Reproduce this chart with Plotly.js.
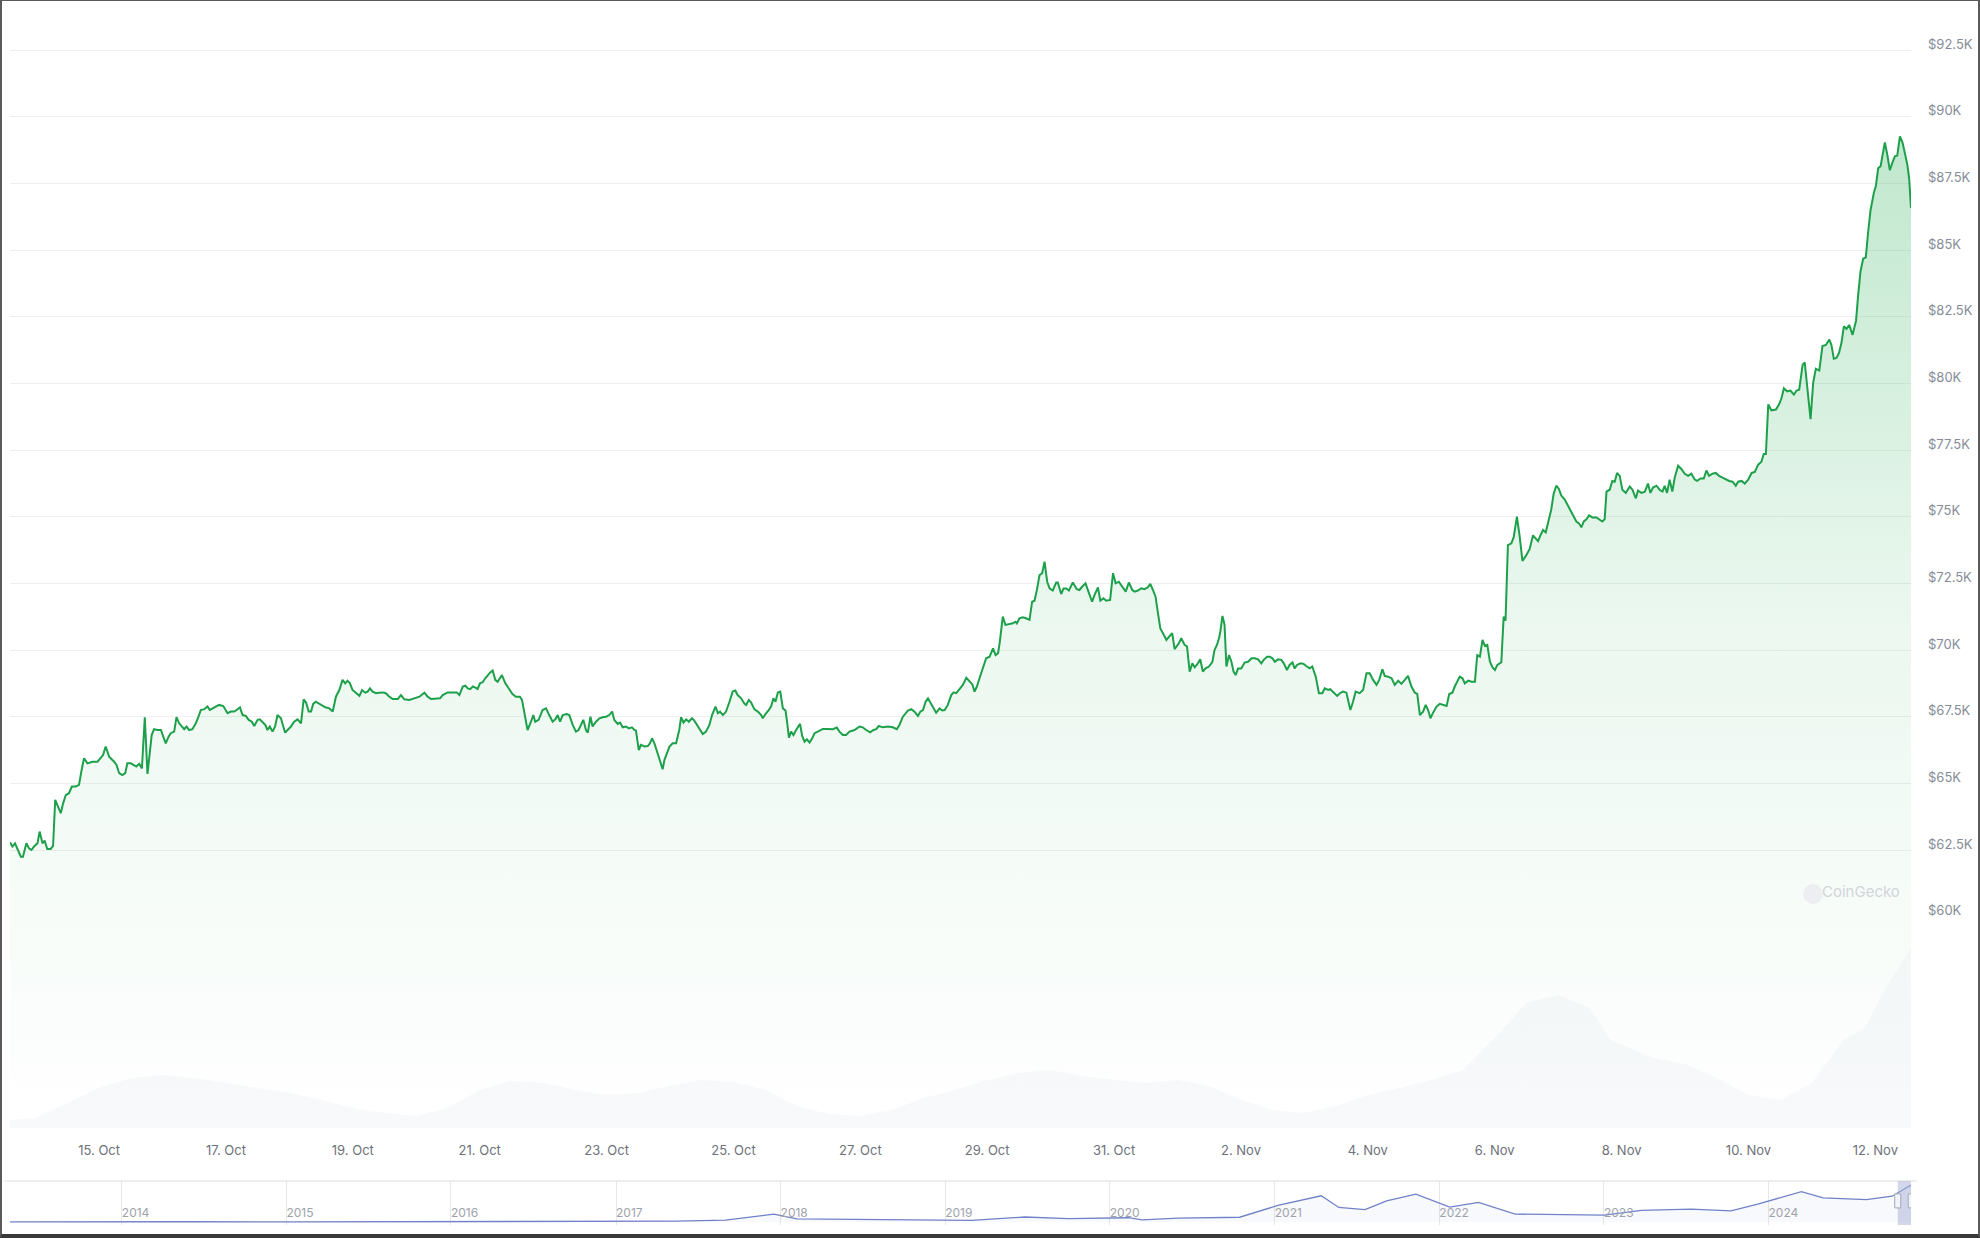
<!DOCTYPE html>
<html><head><meta charset="utf-8">
<script src="https://cdn.plot.ly/plotly-3.0.1.min.js"></script>
<style>
html,body{margin:0;padding:0;background:#fff;overflow:hidden;}
#chart{width:1980px;height:1238px;}
#frame{position:absolute;left:0;top:0;width:1980px;height:1238px;box-sizing:border-box;border-left:2px solid #5a5a5a;border-top:1px solid #5a5a5a;border-right:2px solid #5a5a5a;border-bottom:4px solid #3a3a3a;pointer-events:none;}
</style>
</head><body><div id="chart"></div><div id="frame"></div>
<script>
// ---- data ----
// hours since 2024-10-13 00:00
const priceHours = [14.3,15.2,16.2,17.1,18.4,19.2,20.5,21.5,22.4,23.4,24.7,25.5,26.6,27.4,28.4,29.7,30.6,31.4,32.6,33.5,34.4,35.4,36.6,37.7,39.2,40.4,41.4,42.3,43.6,45.5,47.4,48.6,49.5,50.5,51.8,53.7,54.6,55.6,56.8,57.9,58.7,60.0,61.3,62.1,63.2,64.2,65.3,66.3,66.9,67.9,68.8,70.1,71.4,72.2,73.2,74.3,75.1,76.4,77.3,78.3,79.3,80.2,81.1,82.1,83.3,84.6,85.6,86.5,87.8,89.0,89.9,90.9,92.2,93.4,95.0,96.0,96.6,97.9,99.1,100.0,101.3,102.3,103.5,104.6,105.8,106.7,108.0,108.8,109.9,110.9,111.7,112.6,113.6,114.6,115.5,116.8,117.7,118.4,119.3,120.6,121.8,123.1,124.4,125.4,126.3,127.3,128.2,129.0,130.0,131.3,132.3,133.6,135.1,136.4,137.6,138.9,140.1,141.1,142.0,142.9,143.9,145.2,146.5,147.5,148.7,149.6,150.5,151.5,152.8,154.0,155.3,156.5,157.8,159.1,161.0,162.2,163.5,165.4,167.3,169.2,171.1,172.3,173.6,175.5,177.0,178.0,179.9,181.8,183.3,184.3,185.6,186.6,187.5,188.4,189.4,190.4,191.2,192.1,193.1,194.1,195.0,195.9,196.9,197.9,198.8,
200.4,201.7,203.2,204.4,205.7,207.2,208.0,208.9,210.1,211.4,212.3,213.0,214.3,215.8,217.1,218.3,219.6,220.6,221.5,222.4,223.4,224.9,225.9,227.2,228.4,229.4,230.3,231.2,232.2,232.9,233.9,234.7,236.0,237.3,238.5,239.8,241.0,242.1,242.9,244.2,245.1,246.1,247.4,248.4,249.6,250.5,251.1,252.2,253.0,254.3,255.6,256.4,257.2,258.1,259.3,260.6,261.2,261.9,262.8,263.8,265.0,266.3,267.5,268.2,269.1,270.1,271.1,272.3,273.2,274.5,275.8,276.4,277.6,278.9,279.9,281.2,282.1,282.9,284.0,285.2,286.5,287.7,288.7,289.6,290.9,292.2,292.8,293.8,294.7,295.9,297.2,298.5,299.1,300.1,301.4,302.3,303.1,303.9,304.8,305.7,306.7,307.7,308.2,309.0,309.8,310.7,311.7,312.7,313.2,314.0,314.9,315.8,316.8,317.8,318.7,319.9,321.8,323.7,325.6,327.1,328.1,329.4,330.6,331.9,333.8,335.7,336.9,338.2,339.7,341.0,342.0,343.0,344.5,346.4,348.3,349.8,350.8,352.1,354.0,355.3,356.5,357.8,358.7,359.7,360.7,361.6,362.5,363.5,364.7,366.0,367.0,367.9,369.1,370.4,371.3,372.3,373.6,374.8,376.1,377.3,378.4,379.2,380.1,381.1,382.4,383.6,384.9,386.2,387.2,388.1,
388.7,389.9,390.9,392.4,393.7,394.7,395.2,396.2,397.5,398.7,400.0,401.0,401.9,402.8,403.8,404.8,405.7,406.7,407.6,408.8,410.1,410.7,412.0,412.9,413.9,414.9,416.4,417.9,418.9,420.0,421.2,422.5,423.7,424.6,425.9,426.8,428.0,429.0,430.5,431.6,432.6,433.8,435.1,436.4,437.6,438.9,439.8,441.0,442.3,443.5,444.8,445.7,446.7,447.7,448.6,449.5,450.5,451.8,453.3,454.0,454.9,456.5,457.4,458.7,459.6,460.6,461.6,462.5,463.7,464.6,465.6,466.6,467.9,469.2,470.0,470.9,471.7,472.2,473.0,473.8,474.5,475.5,476.4,477.2,478.0,478.9,480.1,481.4,482.7,484.0,485.2,486.5,487.7,488.6,489.9,490.9,491.9,492.8,494.0,495.3,496.2,497.4,498.4,499.5,500.3,501.2,502.5,503.7,504.7,506.0,507.0,508.3,509.5,510.8,511.7,513.0,513.8,515.1,516.4,517.4,518.6,519.9,521.4,522.4,523.4,524.9,526.2,527.5,528.7,530.0,531.3,532.3,533.5,534.4,535.7,537.0,538.2,539.5,540.7,542.0,543.2,544.5,545.8,546.7,547.7,548.9,549.9,550.8,551.7,552.7,554.0,555.2,556.8,557.8,558.8,560.0,560.9,561.8,562.8,563.8,564.7,566.0,567.2,568.5,569.4,570.4,571.4,572.3,573.2,574.2,575.2,576.1,577.0,577.9,
578.5,579.4,580.1,581.0,582.3,583.2,584.4,585.4,586.5,588.0,589.2,590.5,591.5,592.4,593.3,594.3,595.3,596.2,597.4,598.3,599.3,600.3,601.2,602.5,603.7,605.0,605.9,606.9,607.9,608.8,609.7,610.7,611.7,613.0,614.5,615.7,616.7,617.6,618.3,619.5,620.5,621.4,622.3,623.3,624.3,625.6,627.1,628.1,629.4,630.2,631.5,632.8,634.0,634.9,635.9,637.2,638.4,639.5,640.3,641.2,642.2,643.2,644.1,645.4,646.6,647.9,649.2,650.4,651.7,652.6,653.8,655.1,656.1,657.1,658.4,659.6,660.9,662.2,663.4,664.7,666.0,667.2,668.1,669.4,670.6,671.9,673.2,674.4,675.7,676.9,677.8,678.6,679.5,680.7,682.4,683.6,684.5,685.4,686.7,687.9,689.2,690.2,691.2,692.5,693.3,694.2,695.5,696.5,697.5,698.8,700.0,701.3,702.6,703.4,704.3,705.3,706.3,707.2,708.1,709.1,710.1,711.4,712.7,713.5,714.4,715.4,716.4,717.3,718.2,719.5,720.2,721.1,722.0,722.8,723.6,724.5,725.5,726.5,727.4,728.3,729.3,730.3,731.2,732.1,732.8,733.5];

const priceUsd = [62790,62630,62750,62560,62250,62250,62750,62560,62500,62630,62750,63190,62750,62850,62540,62540,62650,64380,64130,63880,64250,64560,64630,64880,64880,64940,65500,65940,65750,65810,65810,65940,66060,66380,66000,65810,65690,65380,65310,65380,65750,65750,65690,65630,65730,65560,67480,65350,65880,66810,67030,67000,67000,66750,66500,66750,66880,66940,67480,67250,67130,67030,67130,67000,67030,67250,67500,67750,67780,67880,67750,67810,67900,67940,67900,67750,67630,67690,67690,67750,67850,67560,67530,67380,67310,67150,67380,67400,67280,67190,67000,67130,66940,67130,67560,67440,67130,66900,67000,67130,67310,67400,67250,68150,68030,67690,67690,67980,68060,67980,67900,67850,67810,67690,68250,68500,68880,68750,68850,68750,68500,68380,68280,68500,68400,68440,68560,68440,68380,68400,68410,68380,68250,68160,68160,68310,68150,68130,68190,68250,68400,68250,68160,68190,68190,68310,68410,68410,68410,68310,68630,68660,68560,68530,68630,68590,68540,68750,68790,68940,69060,69150,69230,68880,68810,
69060,68750,68500,68350,68250,68250,68130,67630,67000,67310,67560,67310,67380,67750,67810,67560,67310,67400,67560,67310,67560,67600,67560,67190,66940,67000,67190,67380,67000,66900,67500,67130,67310,67440,67480,67500,67560,67690,67380,67230,67280,67100,67130,67060,67100,67000,66980,66250,66440,66380,66400,66500,66690,66500,66130,65750,65530,65880,66150,66380,66500,66500,67000,67480,67280,67400,67310,67440,67350,67130,66900,66850,66940,67190,67560,67880,67630,67690,67560,67690,68060,68440,68480,68310,68190,67980,67940,68130,68030,67780,67690,67560,67440,67600,67750,67900,68190,68060,68410,68440,67810,67730,67380,66710,66940,66810,67000,67190,67230,66780,66560,66650,66530,66690,66880,66940,67040,67040,67030,67090,66940,66810,66810,66940,67000,67130,67100,67000,66910,67000,67030,67150,67100,67130,67100,67030,67190,67500,67730,67780,67690,67530,67690,67750,68060,68190,68030,67810,67650,67810,67730,67750,67940,68310,68410,68380,68560,68690,68960,68810,68710,68440,68630,68940,69380,69690,69750,70060,69810,69880,
70250,71250,70940,70980,71000,71060,71000,71190,71230,71190,71130,71810,71850,72250,72810,72880,73310,72560,72310,72230,72530,72530,72100,72310,72310,72230,72530,72280,72250,72380,72500,72130,71810,72060,72350,71850,71940,71850,71880,72880,72500,72560,72350,72190,72530,72250,72190,72230,72310,72280,72350,72480,72250,72000,71380,70810,70630,70380,70560,70630,70030,70250,70440,70190,70130,69190,69500,69350,69500,69650,69190,69310,69380,69560,70000,70190,70440,70690,71280,70940,69380,69810,69560,69190,69060,69310,69310,69530,69560,69690,69690,69650,69500,69630,69750,69750,69690,69560,69650,69630,69500,69250,69440,69530,69310,69440,69500,69480,69400,69310,69380,69000,68380,68380,68560,68500,68530,68400,68280,68380,68440,68400,67750,68060,68440,68380,68500,69130,69130,68880,68690,68880,69280,69030,69000,68940,68690,68850,68730,68880,69030,68630,68400,68350,67560,67690,67940,67750,67440,67650,67880,67980,67940,67900,68350,68400,68630,68810,69000,68940,68750,68850,68810,68810,69810,69750,70380,70150,70190,69560,69350,69250,69440,69500,
69540,71250,71100,73930,74000,74230,75000,74300,73340,73560,73780,74300,74200,74080,74300,74500,74410,74750,75270,75860,76160,76040,75790,75640,75420,75200,75050,74820,74750,74600,74820,74900,75050,74970,74970,74900,74820,74900,75940,76010,76340,76310,76640,76530,76010,75890,76130,76010,75690,75980,75890,75940,76240,75890,76090,76160,76010,75940,76160,75890,76390,75940,76460,76910,76790,76610,76530,76610,76390,76340,76430,76430,76730,76530,76610,76640,76530,76460,76390,76340,76310,76160,76310,76340,76240,76390,76640,76680,76950,77060,77350,77350,79210,78990,79020,79210,79440,79810,79700,79730,79580,79730,79760,80700,80780,79810,78660,80030,80550,80480,81400,81440,81640,81440,80920,80950,81150,81520,82140,82040,82190,81820,82340,83300,84200,84670,84720,85690,86500,87170,87400,88070,88140,88590,89030,88590,87990,88290,88510,88540,89260,89030,88660,88210,87690,86580];

// trading volume (approx., billions USD) at hours since 2024-10-13 00:00
const volumeHours = [14,24,36,48,60,72,84,96,108,120,132,144,156,168,180,192,204,216,228,240,252,264,276,288,300,312,324,336,348,360,372,384,396,408,420,432,444,456,468,480,492,504,516,528,540,552,564,576,588,600,612,620,636,648,660,672,684,696,708,716,724,733.5];
const volumeBn = [8,10,25,40,50,53,50,45,40,35,28,20,15,12,20,38,47,45,38,33,35,42,48,46,38,22,14,12,18,30,38,48,55,58,52,48,45,48,42,28,18,15,22,33,40,48,58,90,125,133,120,88,70,64,50,33,28,45,88,100,140,180];

// all-time BTC price history for the navigator
const historyDates = ['2013-04-28','2013-11-30','2014-01-01','2014-06-01','2015-01-15','2015-06-01','2016-01-01','2016-06-15','2017-01-01','2017-05-15','2017-09-01','2017-12-17','2018-02-06','2018-06-01','2018-11-25','2019-03-01','2019-06-26','2019-10-01','2020-02-12','2020-03-13','2020-06-01','2020-10-15','2021-01-08','2021-04-14','2021-05-23','2021-07-20','2021-09-06','2021-11-10','2022-01-24','2022-03-29','2022-06-18','2022-11-21','2023-01-01','2023-03-25','2023-07-13','2023-10-10','2023-12-08','2024-03-14','2024-05-01','2024-08-05','2024-10-01','2024-11-12'];
const historyUsd = [135,1100,800,600,250,230,430,700,1000,2000,4500,19000,7500,6500,4000,3900,12000,8300,10300,5000,9500,11500,40000,63000,35000,30000,51000,67000,36000,47000,19000,16000,16600,28000,31000,27000,43000,73000,58000,54000,62000,89000];

const priceTicks = [62500,65000,67500,70000,72500,75000,77500,80000,82500,85000,87500,90000,92500];
const lowTick = [60000];
const yearTicks = ['2014-01-01','2015-01-01','2016-01-01','2017-01-01','2018-01-01','2019-01-01','2020-01-01','2021-01-01','2022-01-01','2023-01-01','2024-01-01'];
const yearLabels = ['2014','2015','2016','2017','2018','2019','2020','2021','2022','2023','2024'];

// ---- helpers ----
const BASE = Date.UTC(2024, 9, 13);
function hToDate(h){ return new Date(BASE + h*3600000).toISOString().slice(0,19).replace('T',' '); }
const priceDates = priceHours.map(hToDate);
const volumeDates = volumeHours.map(hToDate);
const fmtK = v => '$' + (v/1000) + 'K';

const FONT = 'Inter, "Open Sans", Roboto, sans-serif';
const Y_RANGE = [52075, 93625];

const traces = [
  { x: volumeDates, y: volumeBn, xaxis:'x', yaxis:'y2', type:'scatter', mode:'lines',
    line:{width:0, color:'rgba(200,205,222,0)'}, fill:'tozeroy', fillcolor:'rgba(214,218,232,0.16)', hoverinfo:'skip' },
  { x: priceDates, y: priceUsd, xaxis:'x', yaxis:'y', type:'scatter', mode:'lines',
    line:{color:'#1da04a', width:2}, fill:'tozeroy',
    fillgradient:{type:'vertical', start:Y_RANGE[0], stop:Y_RANGE[1],
      colorscale:[[0,'rgba(40,175,85,0)'],[0.45,'rgba(40,175,85,0.09)'],[1,'rgba(40,175,85,0.34)']]} },
  { x:[priceDates[0]], y:[null], xaxis:'x', yaxis:'y4', type:'scatter', mode:'lines', hoverinfo:'skip' },
  { x: historyDates, y: historyUsd, xaxis:'x2', yaxis:'y3', type:'scatter', mode:'lines',
    line:{color:'#7181c9', width:1.3}, fill:'tozeroy', fillcolor:'rgba(113,129,201,0.05)' }
];

const navTop = 0.0365;
const layout = {
  width:1980, height:1238,
  margin:{l:10, r:69, t:20, b:13},
  paper_bgcolor:'#ffffff', plot_bgcolor:'#ffffff',
  showlegend:false, hovermode:false,
  font:{family:FONT},
  xaxis:{ domain:[0,1], anchor:'y', type:'date',
    range:[priceDates[0], priceDates[priceDates.length-1]],
    tick0:'2024-10-15', dtick:172800000, tickformat:'%-d. %b',
    showgrid:false, zeroline:false, showline:false, ticks:'',
    tickfont:{family:FONT, size:13, color:'#6d717a'}, ticklabelstandoff:13 },
  yaxis:{ domain:[0.0805,1], anchor:'x', side:'right', range:Y_RANGE,
    tickvals:priceTicks, ticktext:priceTicks.map(fmtK),
    showgrid:true, gridcolor:'#efefef', gridwidth:1, zeroline:false, showline:false, ticks:'',
    tickfont:{family:FONT, size:13, color:'#868c97'}, ticklabelstandoff:16, ticklabelshift:-6 },
  yaxis4:{ overlaying:'y', anchor:'x', side:'right', range:Y_RANGE,
    tickvals:lowTick, ticktext:lowTick.map(fmtK),
    showgrid:false, zeroline:false, showline:false, ticks:'',
    tickfont:{family:FONT, size:13, color:'#868c97'}, ticklabelstandoff:16, ticklabelshift:-6 },
  yaxis2:{ overlaying:'y', anchor:'x', range:[0,1108], visible:false, showgrid:false, zeroline:false },
  xaxis2:{ domain:[0,1], anchor:'y3', type:'date',
    range:[historyDates[0], historyDates[historyDates.length-1]],
    tickvals:yearTicks, ticktext:yearLabels, ticklabelposition:'inside right',
    showgrid:true, gridcolor:'#e7e7e7', zeroline:false, showline:false, ticks:'',
    tickfont:{family:FONT, size:12, color:'#9ea3ab'} },
  yaxis3:{ domain:[0,navTop], anchor:'x2', range:[-7200,98600], visible:false, showgrid:false, zeroline:false },
  shapes:[
    { type:'line', xref:'paper', yref:'paper', x0:-0.003, x1:1.003, y0:navTop, y1:navTop,
      line:{color:'#dcdcdc', width:1} },
    { type:'rect', xref:'x2', yref:'paper', x0:priceDates[0], x1:priceDates[priceDates.length-1],
      y0:0, y1:navTop, fillcolor:'rgba(165,176,214,0.5)', line:{width:0} },
    { type:'rect', xref:'x2', yref:'paper', xsizemode:'pixel', ysizemode:'pixel',
      xanchor:priceDates[0], x0:-3, x1:3, yanchor:0.02, y0:-7, y1:7,
      fillcolor:'#f3f4f7', line:{color:'#a3a9bb', width:1} },
    { type:'rect', xref:'x2', yref:'paper', xsizemode:'pixel', ysizemode:'pixel',
      xanchor:priceDates[priceDates.length-1], x0:-3, x1:3, yanchor:0.02, y0:-7, y1:7,
      fillcolor:'#f3f4f7', line:{color:'#a3a9bb', width:1} },
    { type:'circle', xref:'paper', yref:'paper', x0:0.9432, x1:0.9537, y0:0.2664, y1:0.283,
      fillcolor:'#eceef1', line:{width:0} }
  ],
  annotations:[
    { text:'CoinGecko', xref:'paper', yref:'paper', x:0.9953, y:0.277, xanchor:'right', yanchor:'middle',
      showarrow:false, font:{family:FONT, size:15, color:'#d2d5da'} }
  ]
};

Plotly.newPlot('chart', traces, layout, {staticPlot:true, displayModeBar:false});
</script></body></html>
